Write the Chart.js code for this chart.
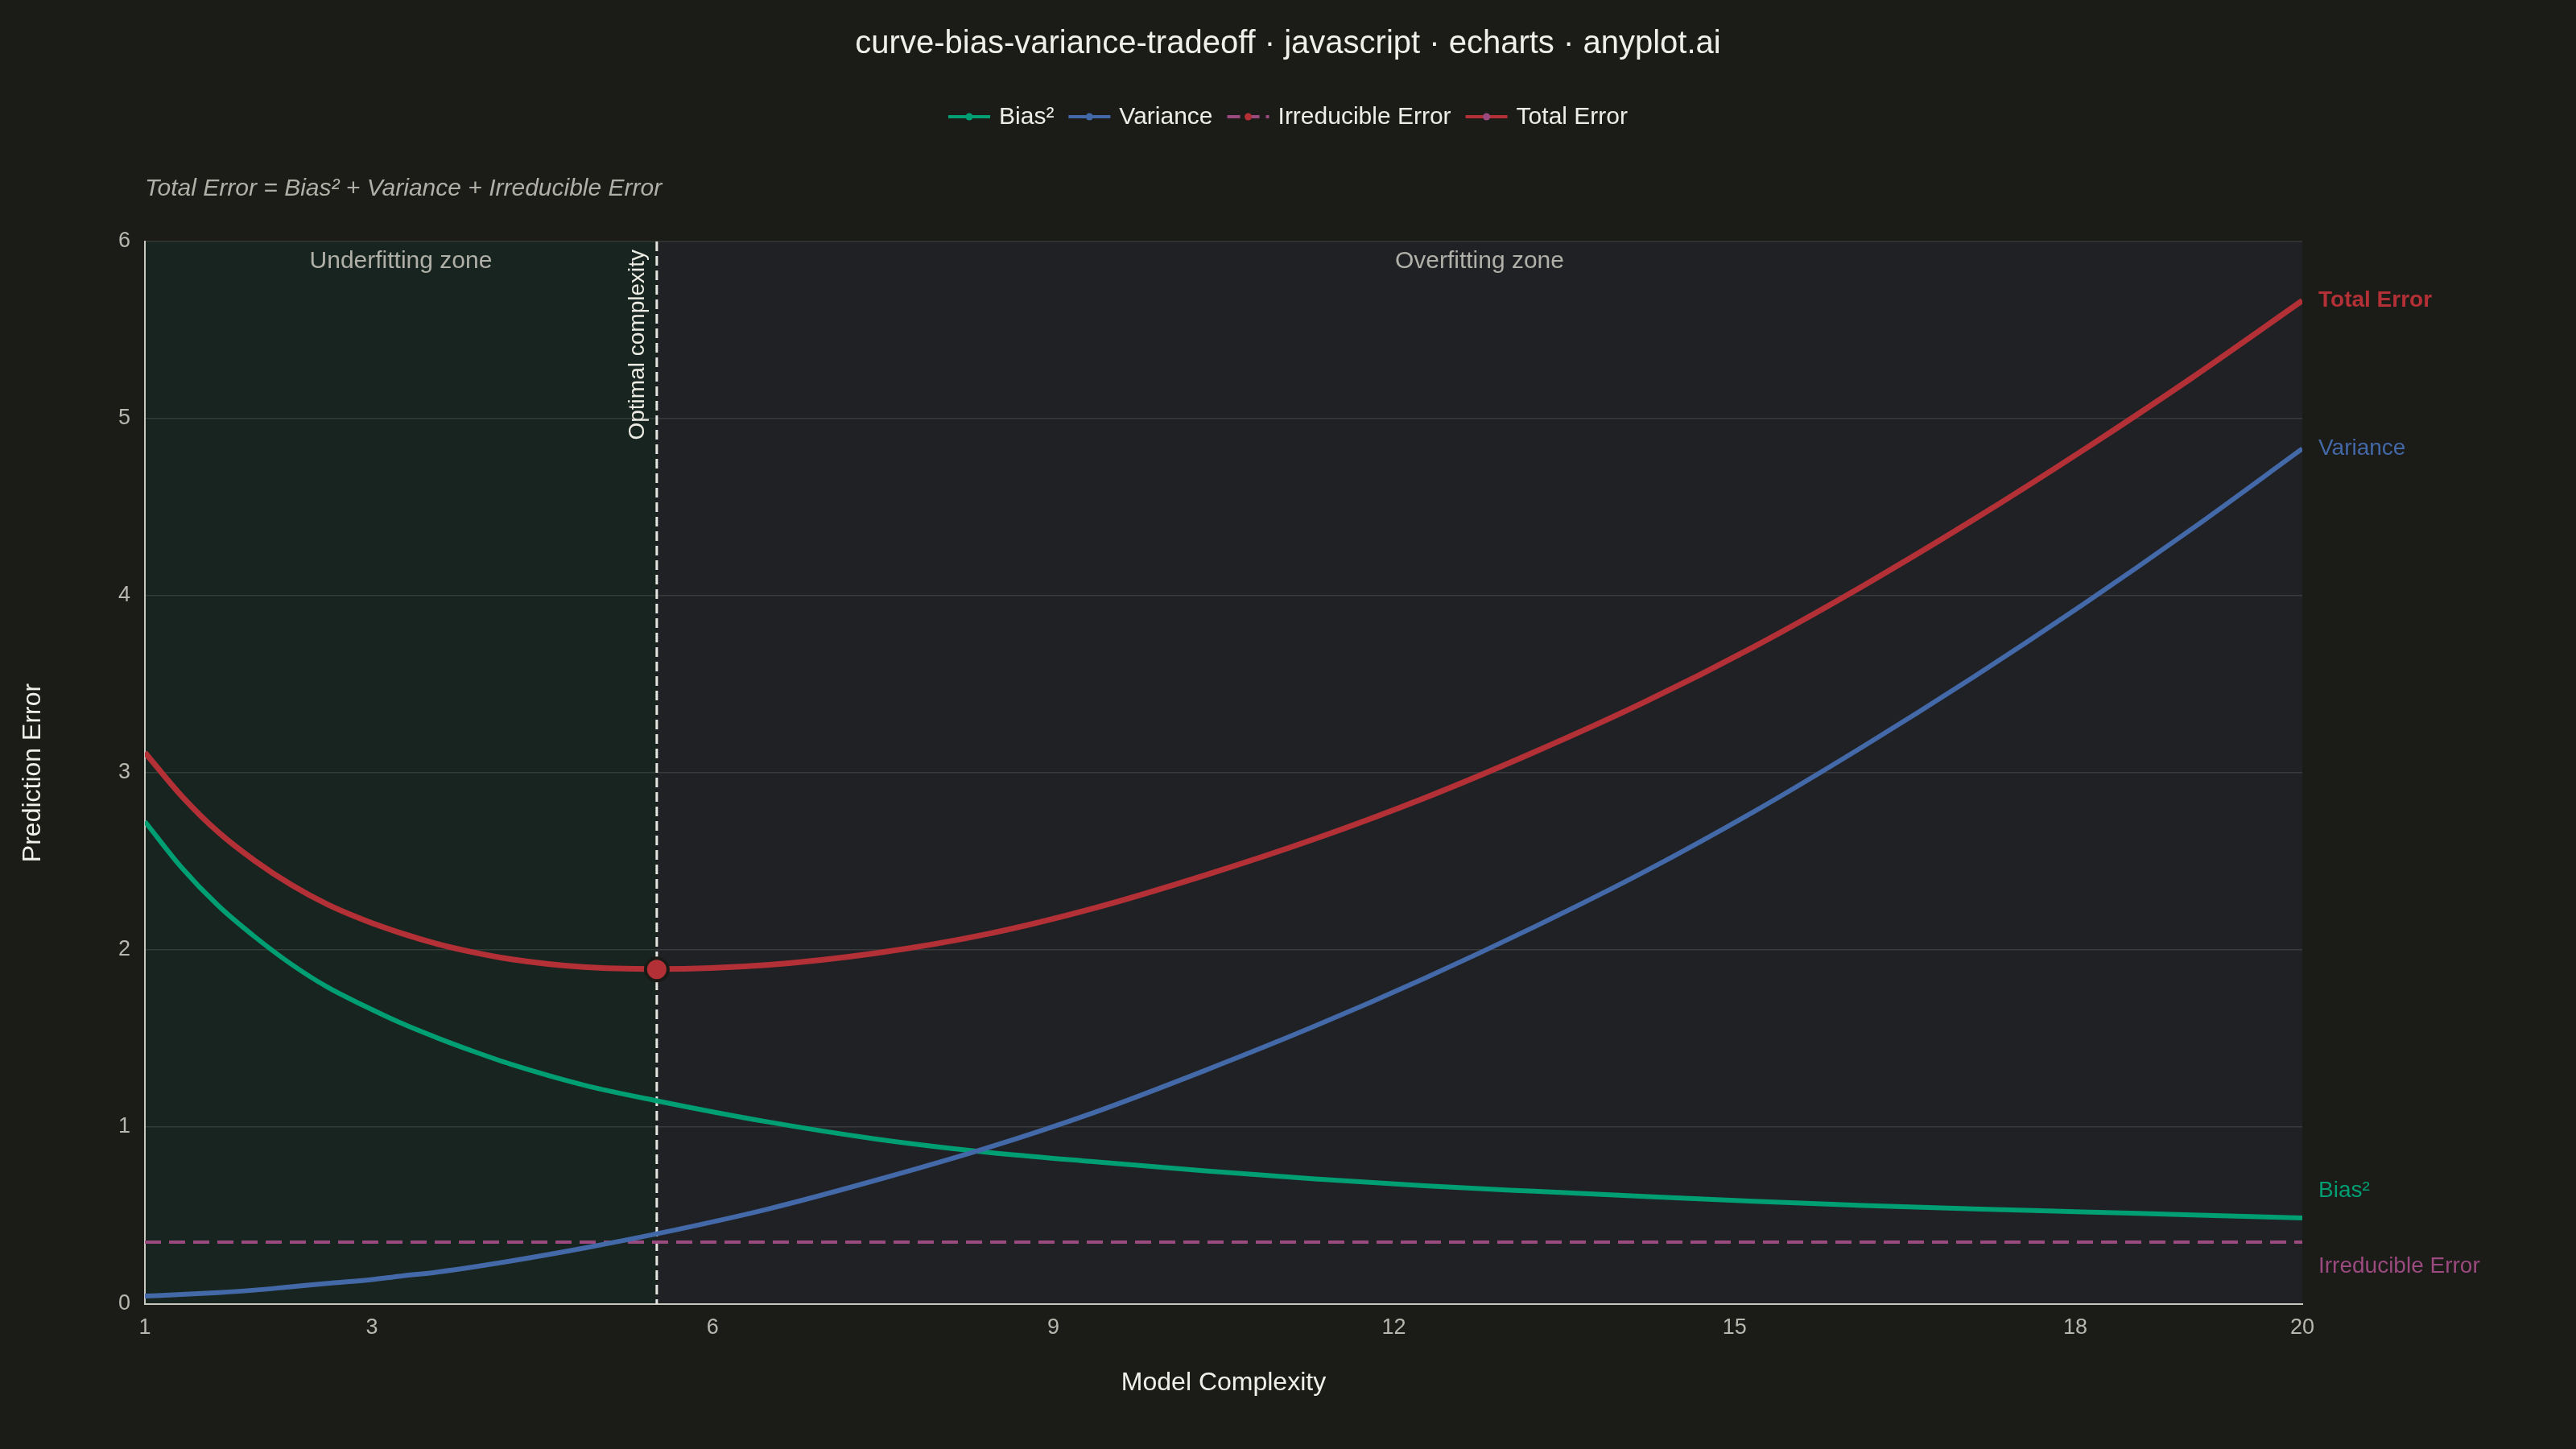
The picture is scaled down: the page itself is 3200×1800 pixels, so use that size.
<!DOCTYPE html>
<html>
<head>
<meta charset="utf-8">
<script src="https://cdn.jsdelivr.net/npm/chart.js@4.4.1/dist/chart.umd.min.js"></script>
<style>
  html, body { margin: 0; padding: 0; background: #1b1b17; }
  canvas { display: block; }
</style>
</head>
<body>
<canvas id="chart" width="3200" height="1800" style="width:3200px;height:1800px"></canvas>
<script>
// ---------------- data ----------------
const complexity = [1.000, 1.322, 1.644, 1.966, 2.288, 2.610, 2.932, 3.254, 3.576, 3.898, 4.220, 4.864, 5.508, 6.475, 7.441, 8.407, 9.373, 10.339, 11.305, 12.271, 13.237, 14.203, 15.169, 16.136, 17.102, 18.068, 19.034, 20.000];
const biasSquared = [2.725, 2.466, 2.251, 2.075, 1.920, 1.789, 1.684, 1.587, 1.503, 1.426, 1.355, 1.237, 1.148, 1.030, 0.932, 0.858, 0.803, 0.752, 0.707, 0.668, 0.637, 0.608, 0.581, 0.557, 0.538, 0.521, 0.503, 0.486];
const variance = [0.045, 0.054, 0.065, 0.079, 0.098, 0.117, 0.134, 0.158, 0.181, 0.210, 0.243, 0.316, 0.397, 0.535, 0.700, 0.880, 1.085, 1.320, 1.570, 1.840, 2.130, 2.440, 2.780, 3.150, 3.540, 3.950, 4.380, 4.830];
const totalError = [3.115, 2.870, 2.666, 2.504, 2.368, 2.256, 2.168, 2.095, 2.034, 1.986, 1.948, 1.903, 1.892, 1.915, 1.982, 2.088, 2.238, 2.422, 2.627, 2.858, 3.117, 3.398, 3.711, 4.057, 4.428, 4.821, 5.233, 5.666];
const irreducibleX = [1, 20];
const irreducibleError = [0.35, 0.35];
const optimalComplexity = [5.508];
const optimalError = [1.89];
const xTickValues = [1, 3, 6, 9, 12, 15, 18, 20];
const seriesNames = ['Bias²', 'Variance', 'Irreducible Error', 'Total Error'];
const zoneNames = ['Underfitting zone', 'Overfitting zone'];
const optimalLabel = 'Optimal complexity';
const titleText = 'curve-bias-variance-tradeoff · javascript · echarts · anyplot.ai';
const subtitleText = 'Total Error = Bias² + Variance + Irreducible Error';
const xAxisTitle = 'Model Complexity';
const yAxisTitle = 'Prediction Error';

// ---------------- styles ----------------
const FONT = '"Liberation Sans", Arial, Helvetica, sans-serif';
const C = {
  bg: '#1b1b17',
  under: '#18241f',
  over: '#1f2125',
  grid: 'rgba(255,255,255,0.11)',
  axis: '#c8c8c0',
  tick: '#b8b8b0',
  text: '#f0f0ea',
  soft: '#b0b0a8',
  bias: '#009e73',
  variance: '#4469a8',
  irreducible: '#9b4a80',
  total: '#b33036',
  optimalLine: '#e6e6e0'
};
// vertical nudges of the end labels (px) so they don't collide
const endLabelNudge = [-34, 0, 30, 0];

const pts = (xs, ys) => xs.map((x, i) => ({ x: x, y: ys[i] }));

const overlay = {
  id: 'overlay',
  beforeDraw(chart) {
    const { ctx, chartArea: a, scales: { x } } = chart;
    ctx.save();
    ctx.fillStyle = C.bg;
    ctx.fillRect(0, 0, chart.width, chart.height);
    const xo = x.getPixelForValue(optimalComplexity[0]);
    ctx.fillStyle = C.under;
    ctx.fillRect(a.left, a.top, xo - a.left, a.bottom - a.top);
    ctx.fillStyle = C.over;
    ctx.fillRect(xo, a.top, a.right - xo, a.bottom - a.top);
    ctx.restore();
  },
  beforeDatasetsDraw(chart) {
    const { ctx, chartArea: a, scales: { x } } = chart;
    const xo = x.getPixelForValue(optimalComplexity[0]);
    ctx.save();
    // zone labels
    ctx.font = `30px ${FONT}`;
    ctx.fillStyle = C.soft;
    ctx.textAlign = 'center';
    ctx.textBaseline = 'middle';
    ctx.fillText(zoneNames[0], (a.left + xo) / 2, a.top + 25);
    ctx.fillText(zoneNames[1], (xo + a.right) / 2, a.top + 25);
    // optimal vertical dashed line
    ctx.strokeStyle = C.optimalLine;
    ctx.lineWidth = 3;
    ctx.setLineDash([12, 6]);
    ctx.beginPath();
    ctx.moveTo(xo, a.top);
    ctx.lineTo(xo, a.bottom);
    ctx.stroke();
    ctx.setLineDash([]);
    // rotated label
    ctx.translate(xo - 16, a.top + 10);
    ctx.rotate(-Math.PI / 2);
    ctx.font = `28px ${FONT}`;
    ctx.fillStyle = '#ececE4';
    ctx.textAlign = 'right';
    ctx.textBaseline = 'alphabetic';
    ctx.fillText(optimalLabel, 0, 0);
    ctx.restore();
  },
  afterDraw(chart) {
    const { ctx, chartArea: a, scales: { y } } = chart;
    ctx.save();
    // title
    ctx.font = `40px ${FONT}`;
    ctx.fillStyle = C.text;
    ctx.textAlign = 'center';
    ctx.textBaseline = 'middle';
    ctx.fillText(titleText, chart.width / 2, 55);
    // subtitle
    ctx.font = `italic 30px ${FONT}`;
    ctx.fillStyle = C.soft;
    ctx.textAlign = 'left';
    ctx.fillText(subtitleText, a.left, 235);
    // legend
    const items = [
      { line: C.bias, dot: C.bias, dash: [] },
      { line: C.variance, dot: C.variance, dash: [] },
      { line: C.irreducible, dot: C.total, dash: [16, 8] },
      { line: C.total, dot: C.irreducible, dash: [] }
    ];
    ctx.font = `30px ${FONT}`;
    const iconW = 52, gapIcon = 11, gapItem = 18;
    const widths = seriesNames.map(n => iconW + gapIcon + ctx.measureText(n).width);
    const totalW = widths.reduce((s, w) => s + w, 0) + gapItem * (widths.length - 1);
    let lx = chart.width / 2 - totalW / 2;
    const ly = 145;
    items.forEach((it, i) => {
      ctx.strokeStyle = it.line;
      ctx.lineWidth = 4;
      ctx.setLineDash(it.dash);
      ctx.beginPath();
      ctx.moveTo(lx, ly);
      ctx.lineTo(lx + iconW, ly);
      ctx.stroke();
      ctx.setLineDash([]);
      ctx.fillStyle = it.dot;
      ctx.beginPath();
      ctx.arc(lx + iconW / 2, ly, 4.5, 0, Math.PI * 2);
      ctx.fill();
      ctx.fillStyle = '#eeeee8';
      ctx.textAlign = 'left';
      ctx.textBaseline = 'middle';
      ctx.fillText(seriesNames[i], lx + iconW + gapIcon, ly + 1);
      lx += widths[i] + gapItem;
    });
    // end labels
    const ends = [
      { v: biasSquared[biasSquared.length - 1], c: C.bias, bold: false },
      { v: variance[variance.length - 1], c: C.variance, bold: false },
      { v: irreducibleError[irreducibleError.length - 1], c: C.irreducible, bold: false },
      { v: totalError[totalError.length - 1], c: C.total, bold: true }
    ];
    ends.forEach((e, i) => {
      ctx.font = `${e.bold ? 'bold ' : ''}28px ${FONT}`;
      ctx.fillStyle = e.c;
      ctx.textAlign = 'left';
      ctx.textBaseline = 'middle';
      ctx.fillText(seriesNames[i], a.right + 20, y.getPixelForValue(e.v) + endLabelNudge[i]);
    });
    ctx.restore();
  }
};

new Chart(document.getElementById('chart'), {
  type: 'line',
  data: {
    datasets: [
      { label: 'Optimum', type: 'scatter', data: pts(optimalComplexity, optimalError), order: 0,
        pointRadius: 14, pointHoverRadius: 14, backgroundColor: C.total, borderColor: '#1a1a17', borderWidth: 4 },
      { label: seriesNames[3], data: pts(complexity, totalError), order: 1,
        borderColor: C.total, borderWidth: 7, pointRadius: 0, cubicInterpolationMode: 'monotone', fill: false },
      { label: seriesNames[1], data: pts(complexity, variance), order: 2,
        borderColor: C.variance, borderWidth: 6, pointRadius: 0, cubicInterpolationMode: 'monotone', fill: false },
      { label: seriesNames[0], data: pts(complexity, biasSquared), order: 3,
        borderColor: C.bias, borderWidth: 6, pointRadius: 0, cubicInterpolationMode: 'monotone', fill: false },
      { label: seriesNames[2], data: pts(irreducibleX, irreducibleError), order: 4,
        borderColor: C.irreducible, borderWidth: 4, borderDash: [20, 10], pointRadius: 0, fill: false }
    ]
  },
  options: {
    responsive: false,
    animation: false,
    devicePixelRatio: 1,
    layout: { padding: { top: 300, right: 340, left: 0, bottom: 50 } },
    plugins: {
      legend: { display: false },
      title: { display: false },
      tooltip: { enabled: false }
    },
    scales: {
      x: {
        type: 'linear', min: 1, max: 20,
        afterBuildTicks: s => { s.ticks = xTickValues.map(v => ({ value: v })); },
        afterFit: s => { s.height = 130; },
        ticks: { autoSkip: false, maxRotation: 0, color: C.tick, padding: 13, font: { family: FONT, size: 27 } },
        grid: { display: false, drawTicks: false },
        border: { display: true, color: C.axis, width: 2 },
        title: { display: true, text: xAxisTitle, color: C.text, font: { family: FONT, size: 32 }, padding: { top: 0, bottom: 13 } }
      },
      y: {
        min: 0, max: 6,
        afterFit: s => { s.width = 180; },
        ticks: { stepSize: 1, color: C.tick, padding: 18, font: { family: FONT, size: 27 } },
        grid: { color: C.grid, lineWidth: 1.5, drawTicks: false },
        border: { display: true, color: C.axis, width: 2 },
        title: { display: true, text: yAxisTitle, color: C.text, font: { family: FONT, size: 32 }, padding: { top: 22, bottom: 0 } }
      }
    }
  },
  plugins: [overlay]
});
</script>
</body>
</html>
